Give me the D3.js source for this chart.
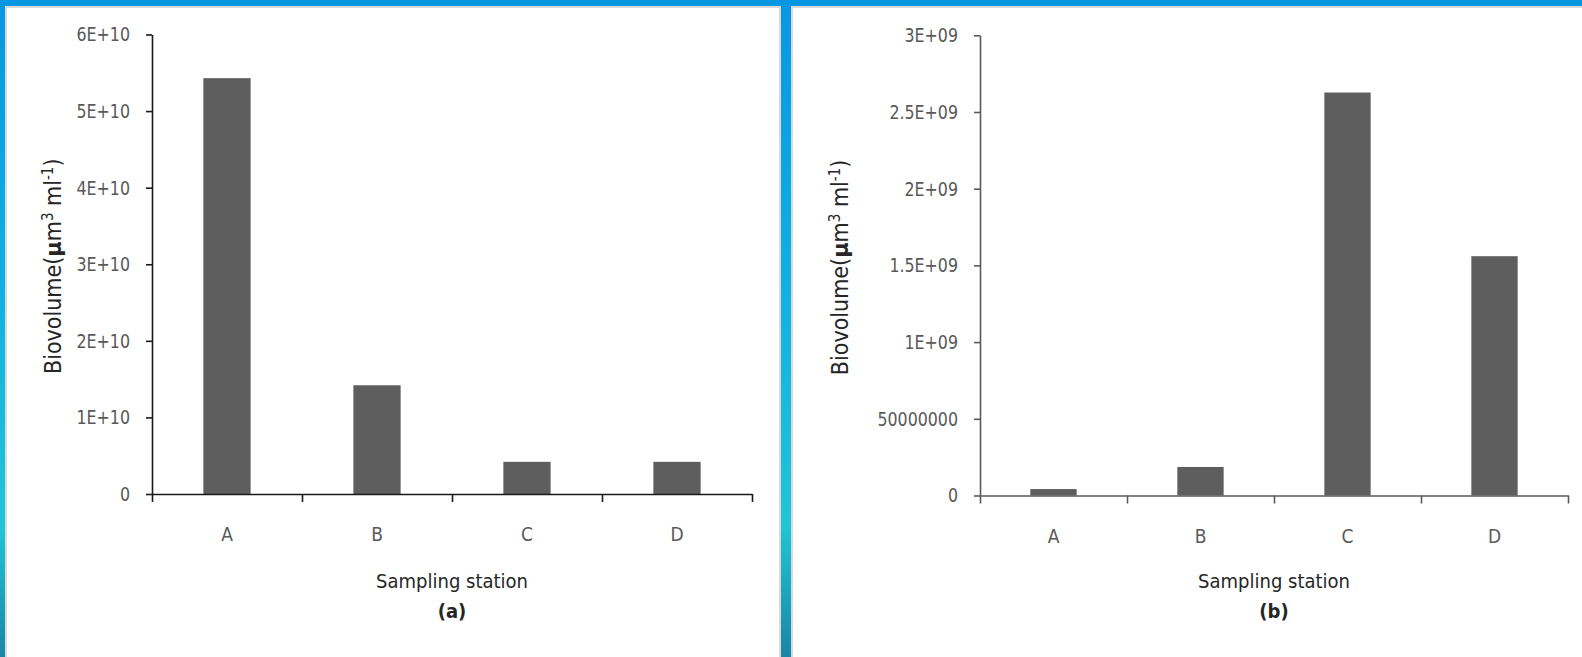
<!DOCTYPE html>
<html>
<head>
<meta charset="utf-8">
<script src="https://cdn.jsdelivr.net/npm/d3@7/dist/d3.min.js"></script>
<style>
  body { margin: 0; background: #fff; }
  svg { display: block; }
  text { font-family: "Liberation Sans Narrow", "DejaVu Sans Condensed", "Roboto", sans-serif; }
</style>
</head>
<body>
<svg width="1582" height="657"></svg>
<script>
// data
const stations = ["A", "B", "C", "D"];
const biovolumeA = [5.43e10, 1.42e10, 0.42e10, 0.42e10];
const biovolumeB = [0.042e9, 0.186e9, 2.627e9, 1.56e9];
const yTicksA = [0, 1e10, 2e10, 3e10, 4e10, 5e10, 6e10];
const yLabelsA = ["0", "1E+10", "2E+10", "3E+10", "4E+10", "5E+10", "6E+10"];
const yTicksB = [0, 0.5e9, 1e9, 1.5e9, 2e9, 2.5e9, 3e9];
const yLabelsB = ["0", "50000000", "1E+09", "1.5E+09", "2E+09", "2.5E+09", "3E+09"];

function main() {
  let svg = d3.select("svg");

  // blue frame
  let defs = svg.append("defs");
  let grad = defs.append("linearGradient")
    .attr("id", "frame").attr("x1", 0).attr("y1", 0).attr("x2", 0).attr("y2", 1);
  grad.append("stop").attr("offset", "0").attr("stop-color", "#0797e2");
  grad.append("stop").attr("offset", "0.45").attr("stop-color", "#0fb2e2");
  grad.append("stop").attr("offset", "0.8").attr("stop-color", "#1fc6d6");
  grad.append("stop").attr("offset", "1").attr("stop-color", "#1a86a6");

  svg.append("rect").attr("width", 1582).attr("height", 657).attr("fill", "url(#frame)");
  svg.append("rect").attr("width", 1582).attr("height", 6).attr("fill", "#0797e2");

  // panels with a thin grey edge
  [[5, 776], [779, 803]].forEach(function (p) {
    svg.append("rect").attr("x", p[0]).attr("y", 6).attr("width", p[1] + 2).attr("height", 651).attr("fill", "#d9d9d9");
    svg.append("rect").attr("x", p[0] + 2).attr("y", 8).attr("width", p[1] - 2).attr("height", 649).attr("fill", "#fff");
  });
  // divider
  svg.append("rect").attr("x", 781).attr("y", 0).attr("width", 10).attr("height", 657).attr("fill", "url(#frame)");
  svg.append("rect").attr("x", 779).attr("y", 6).attr("width", 2).attr("height", 651).attr("fill", "#d9d9d9");
  svg.append("rect").attr("x", 791).attr("y", 6).attr("width", 2).attr("height", 651).attr("fill", "#d9d9d9");

  drawPanel(svg, {
    left: 152, right: 752, top: 34.5, bottom: 494,
    values: biovolumeA, ticks: yTicksA, labels: yLabelsA,
    axisColor: "#1a1a1a", yTitleX: 53, tag: "(a)"
  });
  drawPanel(svg, {
    left: 980, right: 1568, top: 35.3, bottom: 495.5,
    values: biovolumeB, ticks: yTicksB, labels: yLabelsB,
    axisColor: "#5a5a5a", yTitleX: 840, tag: "(b)"
  });
}

function drawPanel(svg, o) {
  let g = svg.append("g");
  let midX = (o.left + o.right) / 2;

  let xScale = d3.scaleBand().domain(stations).range([o.left, o.right]).padding(0);
  let edge = d3.scaleLinear().domain([0, stations.length]).range([o.left, o.right]);
  let yScale = d3.scaleLinear()
    .domain([0, o.ticks[o.ticks.length - 1]])
    .range([o.bottom, o.top]);

  let barW = xScale.bandwidth() * 0.315;

  g.selectAll(".bar")
    .data(o.values)
    .enter()
    .append("rect")
    .attr("class", "bar")
    .attr("x", function (d, i) { return xScale(stations[i]) + (xScale.bandwidth() - barW) / 2; })
    .attr("y", function (d) { return yScale(d); })
    .attr("width", barW)
    .attr("height", function (d) { return o.bottom - yScale(d); })
    .attr("fill", "#5e5e5e");

  // y axis
  let yAxis = g.append("g")
    .attr("transform", "translate(" + o.left + ",0)")
    .call(
      d3.axisLeft(yScale)
        .tickValues(o.ticks)
        .tickFormat(function (d, i) { return o.labels[i]; })
        .tickSize(6)
        .tickSizeOuter(0)
        .tickPadding(16)
    );
  // narrower glyphs, closer to the original's font
  yAxis.selectAll("text")
    .attr("font-size", "20px")
    .attr("fill", "#595959")
    .attr("x", -22 / 0.88)
    .attr("transform", "scale(0.88,1)");

  // x axis: ticks at category edges, labels at centres
  let xEdges = g.append("g")
    .attr("transform", "translate(0," + o.bottom + ")")
    .call(d3.axisBottom(edge).tickValues(d3.range(stations.length + 1)).tickFormat("").tickSize(8).tickSizeOuter(0));
  let xLabels = g.append("g")
    .attr("transform", "translate(0," + o.bottom + ")")
    .call(d3.axisBottom(xScale).tickSize(0).tickPadding(34));
  xLabels.select(".domain").remove();
  xLabels.selectAll("text").attr("font-size", "19px").attr("fill", "#595959");

  [yAxis, xEdges].forEach(function (a) {
    a.selectAll("path, line").attr("stroke", o.axisColor).attr("stroke-width", 1.6);
  });

  // titles
  g.append("text")
    .attr("transform", "translate(" + o.yTitleX + "," + ((o.top + o.bottom) / 2 + 2) + ") rotate(-90)")
    .attr("text-anchor", "middle")
    .attr("dy", "0.35em")
    .attr("font-size", "23px")
    .attr("fill", "#262626")
    .html('Biovolume(<tspan font-family="DejaVu Sans" font-weight="bold" font-size="21px">μ</tspan>m<tspan dy="-8" font-size="15px">3</tspan><tspan dy="8"> ml</tspan><tspan dy="-8" font-size="15px">-1</tspan><tspan dy="8">)</tspan>');

  g.append("text")
    .attr("x", midX)
    .attr("y", 588)
    .attr("text-anchor", "middle")
    .attr("font-size", "20px")
    .attr("fill", "#262626")
    .text("Sampling station");

  g.append("text")
    .attr("x", midX)
    .attr("y", 618)
    .attr("text-anchor", "middle")
    .attr("font-size", "20px")
    .attr("font-weight", "bold")
    .attr("fill", "#262626")
    .text(o.tag);
}

main();
</script>
</body>
</html>
